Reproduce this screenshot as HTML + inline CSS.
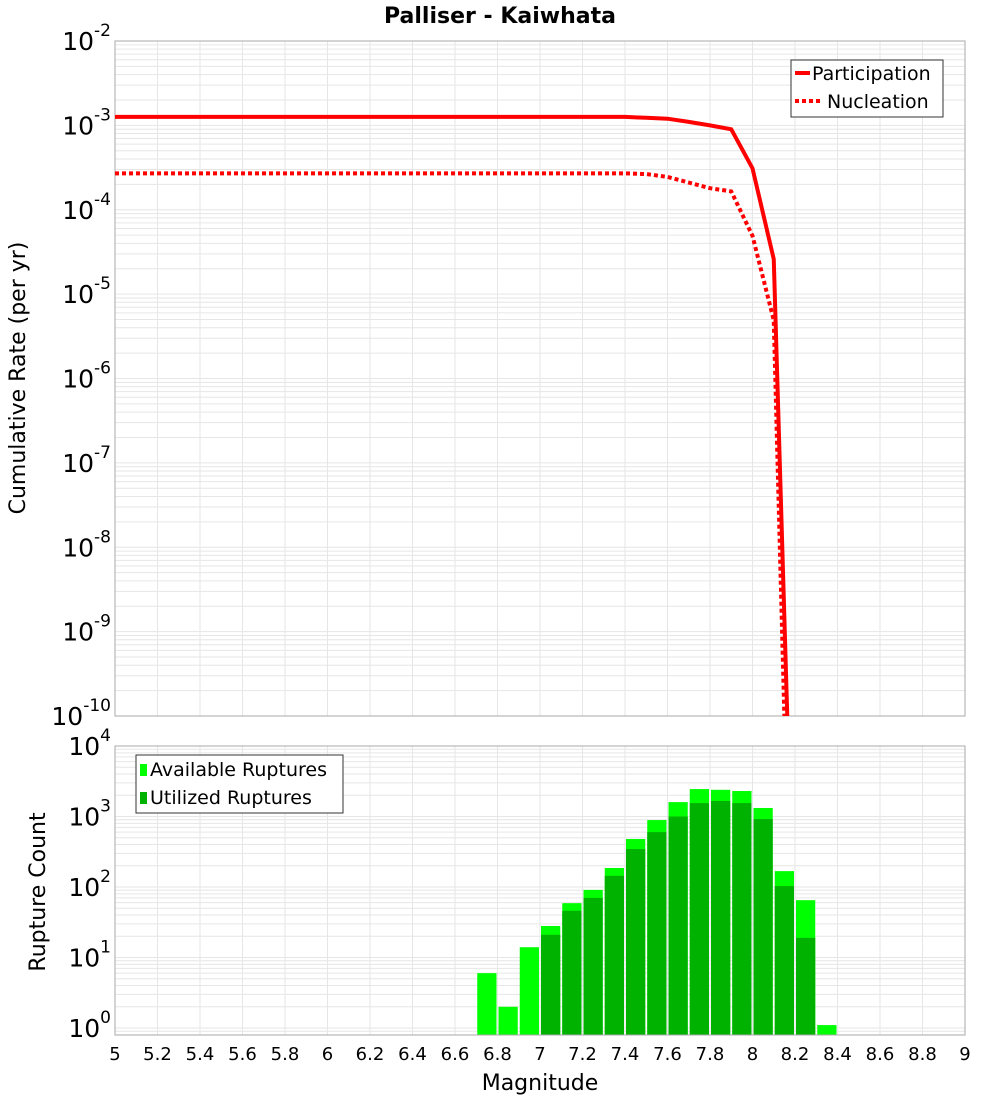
<!DOCTYPE html>
<html><head><meta charset="utf-8"><style>
body{margin:0;background:#fff;}
svg text{font-family:"DejaVu Sans","Liberation Sans",sans-serif;}
</style></head><body>
<svg id="chart" width="1000" height="1100" xmlns="http://www.w3.org/2000/svg">
<text x="500" y="23" text-anchor="middle" font-size="22" font-weight="bold">Palliser - Kaiwhata</text>
<g id="top"></g>
<g id="bot"></g>
<text transform="translate(25,378) rotate(-90)" text-anchor="middle" font-size="22">Cumulative Rate (per yr)</text>
<text transform="translate(45,892) rotate(-90)" text-anchor="middle" font-size="22">Rupture Count</text>
<text x="540" y="1090" text-anchor="middle" font-size="22">Magnitude</text>
</svg>
<script>
const mags = [5,5.1,5.2,5.3,5.4,5.5,5.6,5.7,5.8,5.9,6,6.1,6.2,6.3,6.4,6.5,6.6,6.7,6.8,6.9,7,7.1,7.2,7.3,7.4,7.5,7.6,7.7,7.8,7.9,8,8.1,8.2];
const participation = [1.26e-3,1.26e-3,1.26e-3,1.26e-3,1.26e-3,1.26e-3,1.26e-3,1.26e-3,1.26e-3,1.26e-3,1.26e-3,1.26e-3,1.26e-3,1.26e-3,1.26e-3,1.26e-3,1.26e-3,1.26e-3,1.26e-3,1.26e-3,1.26e-3,1.26e-3,1.26e-3,1.26e-3,1.26e-3,1.23e-3,1.2e-3,1.1e-3,1.0e-3,9e-4,3.1e-4,2.6e-5,8e-14];
const nucleation = [2.7e-4,2.7e-4,2.7e-4,2.7e-4,2.7e-4,2.7e-4,2.7e-4,2.7e-4,2.7e-4,2.7e-4,2.7e-4,2.7e-4,2.7e-4,2.7e-4,2.7e-4,2.7e-4,2.7e-4,2.7e-4,2.7e-4,2.7e-4,2.7e-4,2.7e-4,2.7e-4,2.7e-4,2.7e-4,2.65e-4,2.45e-4,2.1e-4,1.8e-4,1.65e-4,4.9e-5,4.9e-6,2e-15];
const binMags = [6.7,6.8,6.9,7.0,7.1,7.2,7.3,7.4,7.5,7.6,7.7,7.8,7.9,8.0,8.1,8.2,8.3];
const available = [6,2,14,28,59,91,186,480,890,1600,2450,2390,2300,1320,168,65,1.1];
const utilized = [0,0,0,21,46,70,144,345,600,1000,1550,1660,1550,920,103,19,0];
const xTicks = [5,5.2,5.4,5.6,5.8,6,6.2,6.4,6.6,6.8,7,7.2,7.4,7.6,7.8,8,8.2,8.4,8.6,8.8,9];
const topExps = [-2,-3,-4,-5,-6,-7,-8,-9,-10];
const botExps = [4,3,2,1,0];

const NS="http://www.w3.org/2000/svg";
const L=115,R=965;
const x=m=>L+(m-5)/4*(R-L);
const TT=41,TB=716, yT=v=>TT+(-2-Math.log10(v))*(TB-TT)/8;
const BT=746,BB=1035, D=70.5, yB=v=>1028-Math.log10(v)*D;
function el(p,t,a){const e=document.createElementNS(NS,t);for(const k in a)e.setAttribute(k,a[k]);p.appendChild(e);return e;}
const svg=document.getElementById('chart');
const defs=el(svg,'defs',{});
const c1=el(defs,'clipPath',{id:'c1'});el(c1,'rect',{x:L,y:TT,width:R-L,height:TB-TT});
const c2=el(defs,'clipPath',{id:'c2'});el(c2,'rect',{x:L,y:BT,width:R-L,height:BB-BT});

function grid(g,yf,e0,e1,top,bot){
  for(let e=e0;e<=e1;e++)for(let k=1;k<10;k++){const yy=yf(k*Math.pow(10,e));if(yy<top-0.5||yy>bot+0.5)continue;
    const ln=el(g,'line',{x1:L,x2:R,y1:yy,y2:yy,stroke:'#e6e6e6','stroke-width':1});
    
    }
  xTicks.forEach(t=>{const ln=el(g,'line',{x1:x(t),x2:x(t),y1:top,y2:bot,stroke:'#e6e6e6','stroke-width':1});
    
    });
}
// top panel
const gt=document.getElementById('top');
grid(gt,yT,-11,-3,TT,TB);
el(gt,'rect',{x:L,y:TT,width:R-L,height:TB-TT,fill:'none',stroke:'#aaa'});
topExps.forEach(e=>{const t=el(gt,'text',{x:L-4,y:yT(Math.pow(10,e))+9,'text-anchor':'end','font-size':25});
  
  
  t.innerHTML='10<tspan dy="-14" font-size="17">'+e+'</tspan>';});
function line(arr,dash,name){const p=el(gt,'polyline',{points:mags.map((m,i)=>x(m)+','+yT(arr[i])).join(' '),fill:'none',stroke:'#ff0000','stroke-width':4,'clip-path':'url(#c1)'});
  if(dash)p.setAttribute('stroke-dasharray','4,3');
  
  }
line(participation,false,'participation-line');
line(nucleation,true,'nucleation-line');
const lg=el(gt,'g',{});


el(lg,'rect',{x:791,y:60,width:152,height:57,fill:'#fff',stroke:'#333'});
el(lg,'line',{x1:795,x2:810,y1:73,y2:73,stroke:'#f00','stroke-width':4});
el(lg,'line',{x1:795,x2:822,y1:101,y2:101,stroke:'#f00','stroke-width':4,'stroke-dasharray':'4,3'});
const t1=el(lg,'text',{x:812,y:80,'font-size':19});t1.textContent='Participation';
const t2=el(lg,'text',{x:827,y:108,'font-size':19});t2.textContent='Nucleation';

// bottom panel
const gb=document.getElementById('bot');
grid(gb,yB,-1,3,BT,BB);
binMags.forEach((m,i)=>{
  const x0=x(m)+1,w=x(m+0.1)-x(m)-2;
  if(available[i]>0){const r=el(gb,'rect',{x:x0,y:yB(available[i]),width:w,height:BB-yB(available[i]),fill:'#00ff00','clip-path':'url(#c2)'});
    
    }
  if(utilized[i]>0){const r=el(gb,'rect',{x:x0,y:yB(utilized[i]),width:w,height:BB-yB(utilized[i]),fill:'#00b200','clip-path':'url(#c2)'});
    
    }
});
el(gb,'rect',{x:L,y:BT,width:R-L,height:BB-BT,fill:'none',stroke:'#aaa'});
botExps.forEach(e=>{const t=el(gb,'text',{x:L-4,y:yB(Math.pow(10,e))+9,'text-anchor':'end','font-size':25});
  
  
  t.innerHTML='10<tspan dy="-14" font-size="17">'+e+'</tspan>';});
xTicks.forEach(tk=>{const t=el(gb,'text',{x:x(tk),y:1060,'text-anchor':'middle','font-size':18});
  
  
  t.textContent=String(tk);});
const lb=el(gb,'g',{});


el(lb,'rect',{x:136,y:755,width:207,height:58,fill:'#fff',stroke:'#333'});
el(lb,'rect',{x:140,y:764,width:7,height:12,fill:'#00ff00'});
el(lb,'rect',{x:140,y:792,width:7,height:12,fill:'#00b200'});
const t3=el(lb,'text',{x:150,y:776,'font-size':19});t3.textContent='Available Ruptures';
const t4=el(lb,'text',{x:150,y:804,'font-size':19});t4.textContent='Utilized Ruptures';
</script>
</body></html>
